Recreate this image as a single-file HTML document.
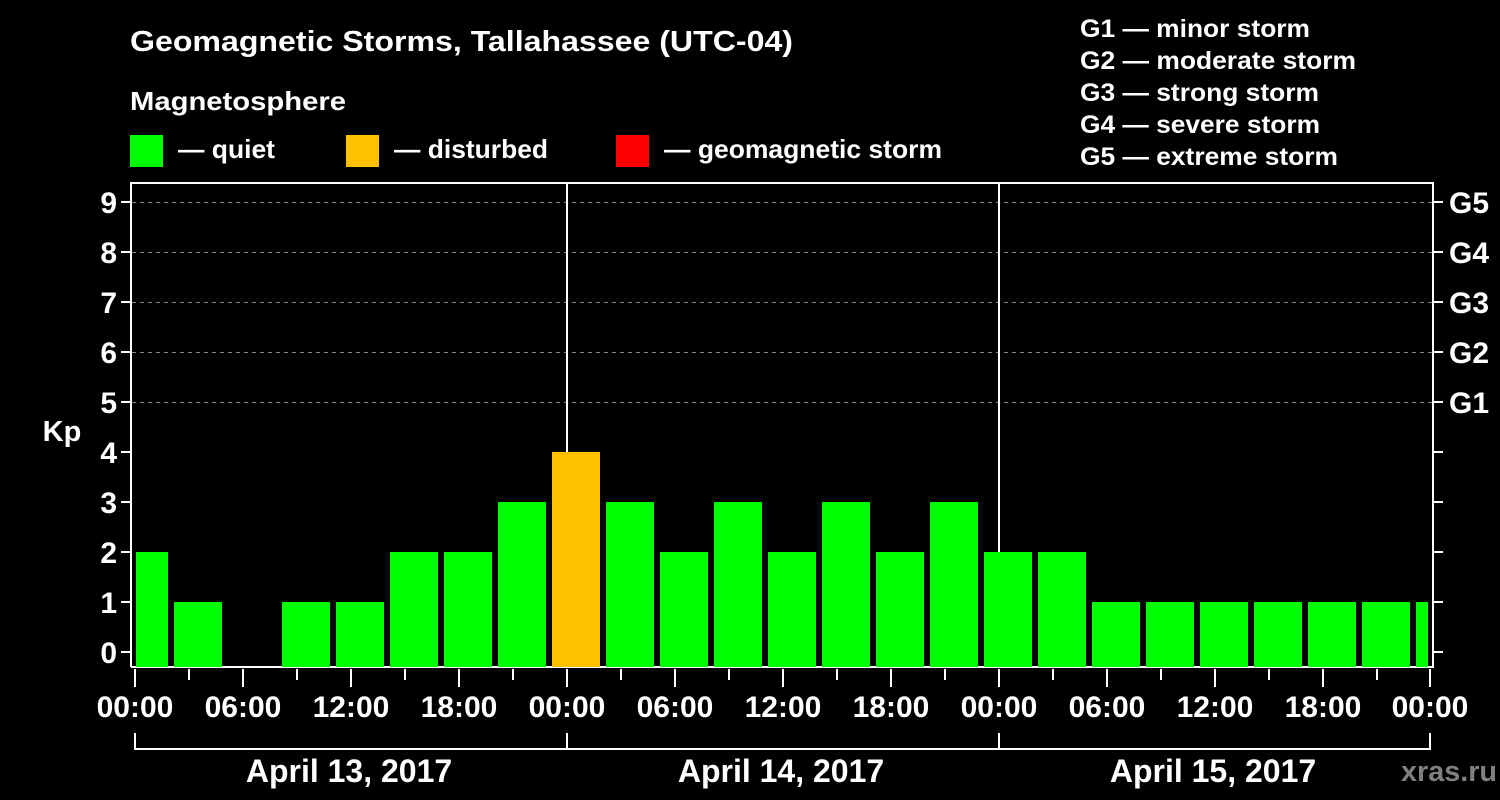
<!DOCTYPE html>
<html><head><meta charset="utf-8"><style>html,body{margin:0;padding:0;background:#000}svg{display:block}text{font-family:"Liberation Sans",Arial,sans-serif;font-weight:bold;fill:#fff}</style></head>
<body>
<svg width="1500" height="800" viewBox="0 0 1500 800" xmlns="http://www.w3.org/2000/svg">
<rect width="1500" height="800" fill="#000"/>
<text x="130" y="51" font-size="29" textLength="663" lengthAdjust="spacingAndGlyphs">Geomagnetic Storms, Tallahassee (UTC-04)</text>
<text x="130" y="110" font-size="26" textLength="216" lengthAdjust="spacingAndGlyphs">Magnetosphere</text>
<rect x="130" y="135" width="33" height="32" fill="#00ff00"/>
<rect x="346" y="135" width="33" height="32" fill="#ffc000"/>
<rect x="616" y="135" width="33" height="32" fill="#ff0000"/>
<text x="178" y="158" font-size="26" textLength="97" lengthAdjust="spacingAndGlyphs">— quiet</text>
<text x="394" y="158" font-size="26" textLength="154" lengthAdjust="spacingAndGlyphs">— disturbed</text>
<text x="664" y="158" font-size="26" textLength="278" lengthAdjust="spacingAndGlyphs">— geomagnetic storm</text>
<g font-size="25">
<text x="1080" y="37" textLength="230" lengthAdjust="spacingAndGlyphs">G1 — minor storm</text>
<text x="1080" y="69" textLength="276" lengthAdjust="spacingAndGlyphs">G2 — moderate storm</text>
<text x="1080" y="101" textLength="239" lengthAdjust="spacingAndGlyphs">G3 — strong storm</text>
<text x="1080" y="133" textLength="240" lengthAdjust="spacingAndGlyphs">G4 — severe storm</text>
<text x="1080" y="165" textLength="258" lengthAdjust="spacingAndGlyphs">G5 — extreme storm</text>
</g>
<g stroke="#888" stroke-width="1" stroke-dasharray="4,4">
<line x1="132" y1="202.5" x2="1432" y2="202.5"/>
<line x1="132" y1="252.5" x2="1432" y2="252.5"/>
<line x1="132" y1="302.5" x2="1432" y2="302.5"/>
<line x1="132" y1="352.5" x2="1432" y2="352.5"/>
<line x1="132" y1="402.5" x2="1432" y2="402.5"/>
</g>
<g stroke="#fff" stroke-width="2" fill="none">
<path d="M131 667 V183 H1433 V668 M131 667 H1433"/>
<line x1="567" y1="183" x2="567" y2="667"/>
<line x1="999" y1="183" x2="999" y2="667"/>
<path d="M135 733 V749 H1430 V733 M567 733 V749 M999 733 V749"/>
</g>
<g fill="#00ff00">
<rect x="136" y="552" width="32" height="115"/>
<rect x="174" y="602" width="48" height="65"/>
<rect x="282" y="602" width="48" height="65"/>
<rect x="336" y="602" width="48" height="65"/>
<rect x="390" y="552" width="48" height="115"/>
<rect x="444" y="552" width="48" height="115"/>
<rect x="498" y="502" width="48" height="165"/>
<rect x="552" y="452" width="48" height="215" fill="#ffc000"/>
<rect x="606" y="502" width="48" height="165"/>
<rect x="660" y="552" width="48" height="115"/>
<rect x="714" y="502" width="48" height="165"/>
<rect x="768" y="552" width="48" height="115"/>
<rect x="822" y="502" width="48" height="165"/>
<rect x="876" y="552" width="48" height="115"/>
<rect x="930" y="502" width="48" height="165"/>
<rect x="984" y="552" width="48" height="115"/>
<rect x="1038" y="552" width="48" height="115"/>
<rect x="1092" y="602" width="48" height="65"/>
<rect x="1146" y="602" width="48" height="65"/>
<rect x="1200" y="602" width="48" height="65"/>
<rect x="1254" y="602" width="48" height="65"/>
<rect x="1308" y="602" width="48" height="65"/>
<rect x="1362" y="602" width="48" height="65"/>
<rect x="1416" y="602" width="12" height="65"/>
</g>
<g id="ticks" stroke="#fff" stroke-width="2"></g>
<g font-size="30" text-anchor="end" id="yl"></g>
<g font-size="30" id="gl"></g>
<g font-size="30" text-anchor="middle" id="xl"></g>
<text x="62" y="441" font-size="29" text-anchor="middle">Kp</text>
<g font-size="32" text-anchor="middle">
<text x="349" y="782">April 13, 2017</text>
<text x="781" y="782">April 14, 2017</text>
<text x="1213" y="782">April 15, 2017</text>
</g>
<text x="1401" y="781" font-size="29" style="fill:#808080" textLength="96" lengthAdjust="spacingAndGlyphs">xras.ru</text>
</svg>
<script>
var NS="http://www.w3.org/2000/svg";
function el(p,t,a,txt){var e=document.createElementNS(NS,t);for(var k in a)e.setAttribute(k,a[k]);if(txt!=null)e.textContent=txt;document.getElementById(p).appendChild(e);}
for(var k=0;k<=9;k++){var y=652-50*k;el("ticks","line",{x1:121,y1:y,x2:131,y2:y});el("ticks","line",{x1:1433,y1:y,x2:1443,y2:y});el("yl","text",{x:117,y:y+11},String(k));if(k>=5)el("gl","text",{x:1449,y:y+11},"G"+(k-4));}
var labs=["00:00","06:00","12:00","18:00"];
for(var j=0;j<=24;j++){var x=135+54*j;if(j==24)x=1430;var major=j%2==0;el("ticks","line",{x1:x,y1:669,x2:x,y2:major?687:680});if(major)el("xl","text",{x:x,y:717},labs[(j/2)%4]);}
</script>
</body></html>
